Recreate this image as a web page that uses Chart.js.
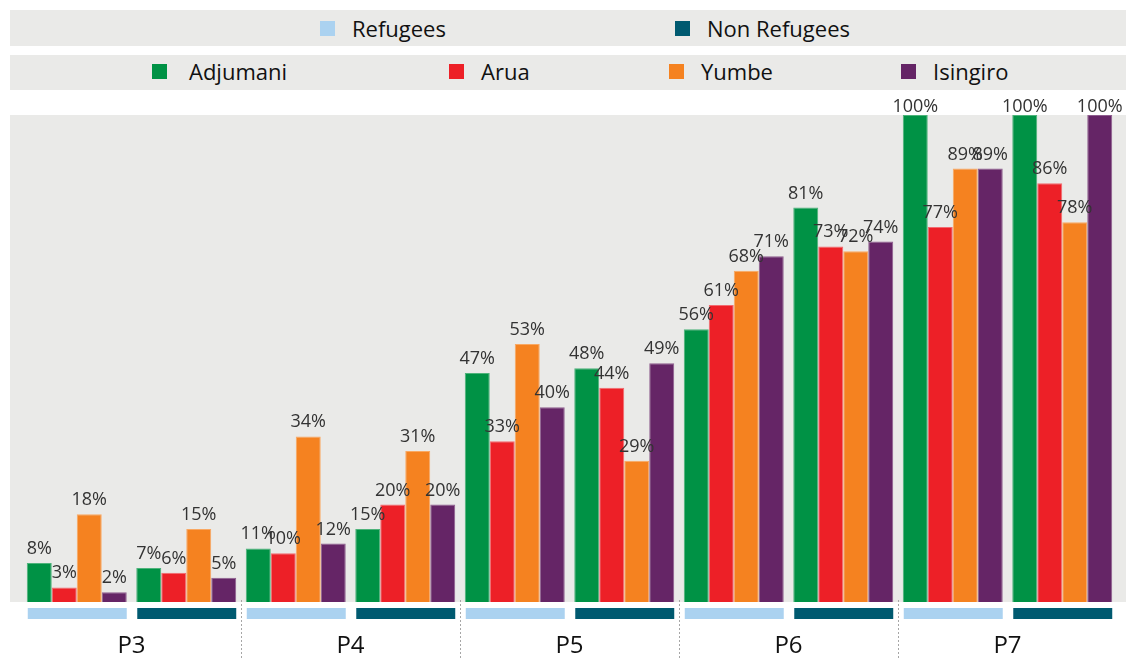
<!DOCTYPE html>
<html>
<head>
<meta charset="utf-8">
<script src="https://cdn.jsdelivr.net/npm/chart.js@4.4.1/dist/chart.umd.min.js"></script>
<style>
  html, body { margin: 0; padding: 0; background: #fff; }
  #wrap { position: relative; width: 1126px; height: 660px; font-family: "Open Sans", sans-serif; }
  #wrap canvas { position: absolute; left: 0; top: 0; }
  .band { position: absolute; left: 10px; right: 0; background: #EAEAE8; }
  .item { position: absolute; top: 0; height: 100%; display: flex; align-items: center; font-size: 22px; color: #111; }
  .item i { display: inline-block; width: 15px; height: 15px; margin-right: 17px; }
  #band2 .item { height: calc(100% - 3px); }
</style>
</head>
<body>
<div id="wrap">
  <div class="band" id="band1" style="top:10px;height:36px;"></div>
  <div class="band" id="band2" style="top:55px;height:35px;"></div>
  <canvas id="c" width="1126" height="660"></canvas>
</div>
<script>
// data
const levels = ['P3', 'P4', 'P5', 'P6', 'P7'];
const statuses = ['Refugees', 'Non Refugees'];
const districts = ['Adjumani', 'Arua', 'Yumbe', 'Isingiro'];
// one value per level/status pair: P3 Ref, P3 Non, P4 Ref, ...
const adjumani = [8, 7, 11, 15, 47, 48, 56, 81, 100, 100];
const arua     = [3, 6, 10, 20, 33, 44, 61, 73, 77, 86];
const yumbe    = [18, 15, 34, 31, 53, 29, 68, 72, 89, 78];
const isingiro = [2, 5, 12, 20, 40, 49, 71, 74, 89, 100];

const districtColors = ['#009245', '#ED2027', '#F58220', '#652566'];
const districtEdges = ['#4db37a', '#f26a6f', '#f9a862', '#8e5d8e'];
const statusColors = ['#ABD2F0', '#005A70'];

// legends (html)
const band1 = document.getElementById('band1');
const band2 = document.getElementById('band2');
const statusLeft = [310, 665];
const districtLeft = [142, 439, 659, 891];
function addItem(band, left, color, label) {
    const d = document.createElement('div');
    d.className = 'item';
    d.style.left = left + 'px';
    d.innerHTML = '<i style="background:' + color + '"></i><span></span>';
    d.querySelector('span').textContent = label;
    band.appendChild(d);
}
statuses.forEach((s, i) => addItem(band1, statusLeft[i], statusColors[i], s));
districts.forEach((s, i) => addItem(band2, districtLeft[i], districtColors[i], s));
band2.firstChild.querySelector('i').style.marginRight = '22px';

const labels = [];
levels.forEach(l => statuses.forEach(s => labels.push(l + ' ' + s)));
const series = [adjumani, arua, yumbe, isingiro];
const catPct = 0.913;

const bgPlugin = {
    id: 'bg',
    beforeDraw(chart) {
        const { ctx, chartArea } = chart;
        ctx.save();
        ctx.fillStyle = '#EAEAE8';
        ctx.fillRect(10, chartArea.top, chart.width - 10, chartArea.bottom - chartArea.top);
        ctx.restore();
    }
};

const valuePlugin = {
    id: 'values',
    afterDatasetsDraw(chart) {
        const { ctx, chartArea } = chart;
        ctx.save();
        ctx.font = '18px "Open Sans"';
        ctx.fillStyle = '#333';
        ctx.textAlign = 'center';
        ctx.textBaseline = 'alphabetic';
        chart.data.datasets.forEach((ds, di) => {
            chart.getDatasetMeta(di).data.forEach((el, i) => {
                const y = Math.max(el.y - 9, chartArea.top - 3);
                ctx.fillText(ds.data[i] + '%', el.x, y);
            });
        });
        ctx.restore();
    }
};

const axisPlugin = {
    id: 'groups',
    afterDraw(chart) {
        const { ctx, chartArea } = chart;
        const x = chart.scales.x;
        const step = (chartArea.right - chartArea.left) / labels.length;
        const half = step * catPct / 2;
        ctx.save();
        labels.forEach((l, i) => {
            const cx = x.getPixelForValue(i);
            ctx.fillStyle = statusColors[i % 2];
            ctx.fillRect(cx - half + 1, chartArea.bottom + 6, half * 2 - 1, 11);
        });
        ctx.font = '24px "Open Sans"';
        ctx.fillStyle = '#111';
        ctx.textAlign = 'center';
        ctx.textBaseline = 'middle';
        levels.forEach((l, k) => {
            const cx = (x.getPixelForValue(2 * k) + x.getPixelForValue(2 * k + 1)) / 2;
            ctx.fillText(l, cx, 646);
        });
        ctx.strokeStyle = '#a6a6a6';
        ctx.lineWidth = 1;
        ctx.setLineDash([2, 2]);
        for (let k = 1; k < levels.length; k++) {
            const sx = Math.round((x.getPixelForValue(2 * k - 1) + x.getPixelForValue(2 * k)) / 2) + 0.5;
            ctx.beginPath();
            ctx.moveTo(sx, chartArea.bottom - 2);
            ctx.lineTo(sx, chart.height);
            ctx.stroke();
        }
        ctx.restore();
    }
};

new Chart(document.getElementById('c'), {
    type: 'bar',
    data: {
        labels: labels,
        datasets: districts.map((d, i) => ({
            label: d,
            data: series[i],
            backgroundColor: districtColors[i],
            borderColor: districtEdges[i],
            borderWidth: 1,
            categoryPercentage: catPct,
            barPercentage: 1
        }))
    },
    options: {
        responsive: false,
        animation: false,
        layout: { padding: { left: 22, right: 9, top: 115, bottom: 58 } },
        plugins: { legend: { display: false }, tooltip: { enabled: false } },
        scales: {
            x: { display: false },
            y: { display: false, min: 0, max: 100 }
        }
    },
    plugins: [bgPlugin, valuePlugin, axisPlugin]
});
</script>
</body>
</html>
